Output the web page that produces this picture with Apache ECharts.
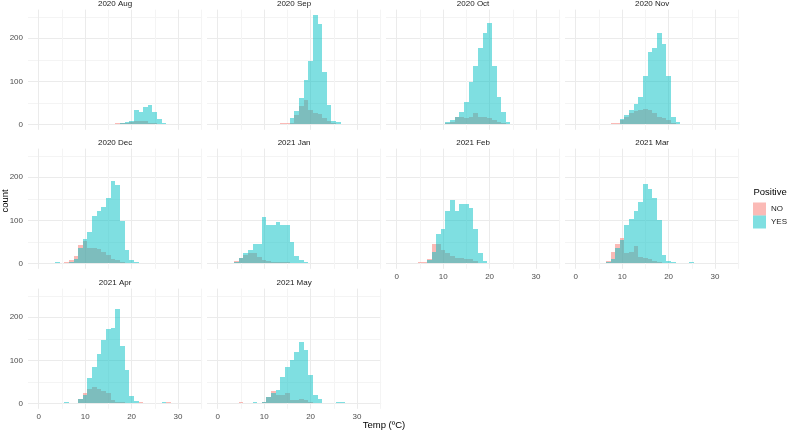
<!DOCTYPE html>
<html><head><meta charset="utf-8">
<script src="https://cdn.jsdelivr.net/npm/echarts@6/dist/echarts.min.js"></script>
<style>html,body{margin:0;padding:0;background:#fff}#c{width:787px;height:432px}</style>
</head><body><div id="c"></div>
<script>
// ---------- data (bin centre in ºC, count) ----------
const panelTitles = ['2020 Aug','2020 Sep','2020 Oct','2020 Nov','2020 Dec','2021 Jan','2021 Feb','2021 Mar','2021 Apr','2021 May'];
const groups = ['NO','YES'];
const xLabelValues = [0,10,20,30];
const xGridValues = [0,5,10,15,20,25,30,35];
const yLabelValues = [0,100,200];
const yGridValues = [0,50,100,150,200,250];

const aug_NO  = [[17,2],[18,3],[19,4],[20,6],[21,7],[22,7],[23,8],[24,4],[25,3],[26,1]];
const aug_YES = [[17,1],[18,3],[19,5],[20,8],[21,33],[22,29],[23,40],[24,46],[25,28],[26,12],[27,2]];
const sep_NO  = [[14,2],[15,2],[16,4],[17,22],[18,43],[19,57],[20,34],[21,26],[22,23],[23,14],[24,7],[25,2]];
const sep_YES = [[15,1],[16,14],[17,31],[18,62],[19,103],[20,147],[21,254],[22,233],[23,122],[24,45],[25,8],[26,6]];
const oct_NO  = [[11,4],[12,6],[13,16],[14,18],[15,14],[16,18],[17,26],[18,16],[19,16],[20,14],[21,10],[22,6],[23,3]];
const oct_YES = [[11,6],[12,9],[13,18],[14,28],[15,53],[16,99],[17,136],[18,177],[19,212],[20,236],[21,136],[22,64],[23,29],[24,5]];
const nov_NO  = [[8,2],[9,2],[10,10],[11,18],[12,26],[13,31],[14,33],[15,35],[16,33],[17,26],[18,18],[19,14],[20,9],[21,2]];
const nov_YES = [[10,12],[11,22],[12,33],[13,47],[14,64],[15,112],[16,169],[17,178],[18,212],[19,187],[20,112],[21,18],[22,6]];
const dec_NO  = [[6,2],[7,8],[8,18],[9,43],[10,52],[11,36],[12,35],[13,33],[14,27],[15,19],[16,9],[17,8],[18,4],[19,1]];
const dec_YES = [[4,2],[6,1],[7,4],[8,10],[9,35],[10,57],[11,72],[12,109],[13,122],[14,130],[15,153],[16,191],[17,182],[18,98],[19,31],[20,8],[21,2]];
const jan_NO  = [[4,6],[5,13],[6,19],[7,24],[8,23],[9,15],[10,8],[11,5],[12,4],[13,4],[14,2],[15,2]];
const jan_YES = [[4,2],[5,12],[6,23],[7,30],[8,45],[9,46],[10,107],[11,90],[12,88],[13,95],[14,90],[15,89],[16,50],[17,17],[18,8],[19,2]];
const feb_NO  = [[5,2],[6,2],[7,10],[8,44],[9,46],[10,31],[11,23],[12,18],[13,13],[14,12],[15,10],[16,9],[17,5]];
const feb_YES = [[7,7],[8,27],[9,68],[10,80],[11,122],[12,147],[13,122],[14,137],[15,138],[16,129],[17,79],[18,23],[19,5]];
const mar_NO  = [[6,1],[7,5],[8,27],[9,46],[10,58],[11,23],[12,26],[13,40],[14,15],[15,12],[16,10],[17,5],[18,2]];
const mar_YES = [[7,2],[8,10],[9,35],[10,55],[11,89],[12,103],[13,122],[14,143],[15,184],[16,173],[17,153],[18,101],[19,19],[20,5],[21,4],[25,2]];
const apr_NO  = [[9,9],[10,23],[11,34],[12,38],[13,33],[14,29],[15,23],[16,8],[17,4],[18,2],[22,2],[28,2]];
const apr_YES = [[6,3],[9,9],[10,19],[11,58],[12,85],[13,114],[14,147],[15,172],[16,175],[17,219],[18,133],[19,78],[20,17],[21,6],[26,1],[27,2]];
const may_NO  = [[5,2],[10,3],[11,14],[12,29],[13,19],[14,20],[15,23],[16,8],[17,8],[18,10],[19,8],[20,3],[29,1]];
const may_YES = [[8,2],[10,4],[11,14],[12,23],[13,30],[14,61],[15,85],[16,100],[17,120],[18,142],[19,124],[20,65],[21,19],[22,10],[26,2],[27,2]];

const panelNO  = [aug_NO,sep_NO,oct_NO,nov_NO,dec_NO,jan_NO,feb_NO,mar_NO,apr_NO,may_NO];
const panelYES = [aug_YES,sep_YES,oct_YES,nov_YES,dec_YES,jan_YES,feb_YES,mar_YES,apr_YES,may_YES];

// ---------- layout / style ----------
const binWidth = 1;
const X_MIN = -2.3, X_MAX = 35.2, Y_MIN = -12.7, Y_MAX = 266.7;
const colLeft = [28, 207, 386, 565];
const colW = 174.2;
const rowTop = [9.6, 148.6, 288.6];
const rowH = 120.2;
const fills = {NO: 'rgba(248,118,109,0.5)', YES: 'rgba(0,191,196,0.5)'};
const FONT = '"Liberation Sans", Arial, sans-serif';

const grids = [], xAxes = [], yAxes = [], series = [], graphics = [];

panelTitles.forEach((title, i) => {
  const r = Math.floor(i / 4), c = i % 4;
  grids.push({left: colLeft[c], top: rowTop[r], width: colW, height: rowH, containLabel: false});
  const showX = (i >= 8) || i === 6 || i === 7;
  const showY = c === 0;
  xAxes.push({
    gridIndex: i, type: 'value', min: X_MIN, max: X_MAX,
    axisLine: {show: false},
    axisTick: {show: false, customValues: xGridValues},
    axisLabel: {show: showX, customValues: xLabelValues, color: '#4D4D4D', fontSize: 8, fontFamily: FONT, margin: 4},
    splitLine: {show: true, lineStyle: {color: ['#EBEBEB', '#F4F4F4'], width: 1}}
  });
  yAxes.push({
    gridIndex: i, type: 'value', min: Y_MIN, max: Y_MAX,
    axisLine: {show: false},
    axisTick: {show: false, customValues: yGridValues},
    axisLabel: {show: showY, customValues: yLabelValues, color: '#4D4D4D', fontSize: 8, fontFamily: FONT, margin: 5},
    splitLine: {show: true, lineStyle: {color: ['#EBEBEB', '#F4F4F4'], width: 1}}
  });
  [['NO', panelNO[i]], ['YES', panelYES[i]]].forEach(([g, d], k) => {
    series.push({
      type: 'custom', name: g, xAxisIndex: i, yAxisIndex: i, z: 2 + k,
      itemStyle: {color: fills[g]},
      encode: {x: 0, y: 1},
      data: d,
      silent: true,
      renderItem: (params, api) => {
        const x = api.value(0), y = api.value(1);
        const p0 = api.coord([x - binWidth / 2, y]);
        const p1 = api.coord([x + binWidth / 2, 0]);
        const x0 = Math.round(p0[0]), x1 = Math.round(p1[0]);
        const y0 = Math.round(p0[1]), y1 = Math.round(p1[1]);
        return {type: 'rect', shape: {x: x0, y: y0, width: x1 - x0, height: y1 - y0},
                style: {fill: fills[g]}};
      }
    });
  });
  graphics.push({type: 'text', x: colLeft[c] + colW / 2, y: rowTop[r] - 5.5,
    style: {text: title, fill: '#1A1A1A', font: '8px ' + FONT, textAlign: 'center', textVerticalAlign: 'middle'}});
});

graphics.push({type: 'text', x: 5.5, y: 201, rotation: Math.PI / 2,
  style: {text: 'count', fill: '#000', font: '9.5px ' + FONT, textAlign: 'center', textVerticalAlign: 'middle'}});
graphics.push({type: 'text', x: 384, y: 425.5,
  style: {text: 'Temp (ºC)', fill: '#000', font: '9.5px ' + FONT, textAlign: 'center', textVerticalAlign: 'middle'}});
graphics.push({type: 'text', x: 753.5, y: 192.5,
  style: {text: 'Positive', fill: '#000', font: '9.5px ' + FONT, textAlign: 'left', textVerticalAlign: 'middle'}});

const chart = echarts.init(document.getElementById('c'), null, {renderer: 'canvas'});
chart.setOption({
  animation: false,
  backgroundColor: '#fff',
  grid: grids, xAxis: xAxes, yAxis: yAxes, series: series,
  legend: {
    data: groups.map(g => ({name: g, icon: 'rect', itemStyle: {color: fills[g]}})),
    orient: 'vertical', left: 753, top: 202.5, itemWidth: 13, itemHeight: 13, itemGap: 0,
    padding: 0, selectedMode: false,
    textStyle: {fontSize: 8, color: '#1A1A1A', fontFamily: FONT}
  },
  graphic: graphics
});
</script></body></html>
